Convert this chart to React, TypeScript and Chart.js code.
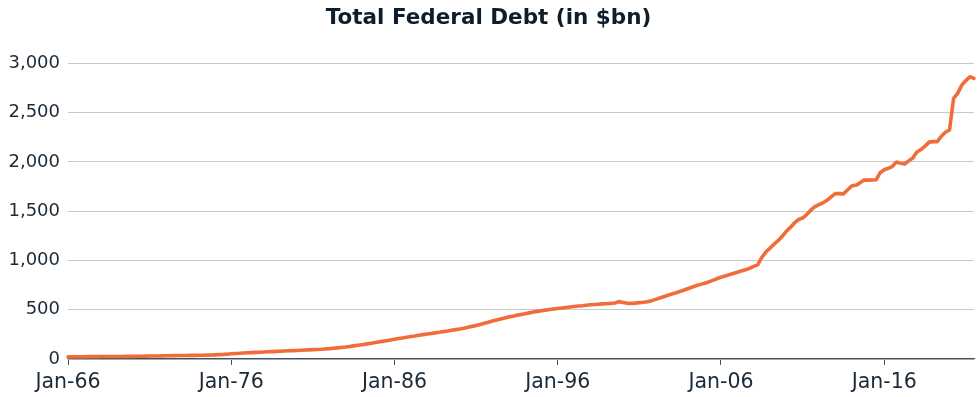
import React, { useEffect, useRef } from "react";
import { Chart, registerables } from "chart.js";

Chart.register(...registerables);

// Quarterly total federal debt ($bn), Jan-66 .. Jul-21
const DEBT_1966_1975 = [
  22, 22, 23, 23, 23, 24, 24, 24, 25, 25, 25, 26, 26, 26, 27, 27, 27, 28, 28, 29,
  30, 30, 31, 32, 33, 33, 34, 35, 36, 36, 37, 37, 38, 38, 39, 40, 42, 44, 46, 49,
];
const DEBT_1976_1985 = [
  53, 56, 58, 61, 63, 65, 67, 69, 71, 73, 75, 77, 79, 81, 83, 85, 87, 89, 91, 93,
  95, 97, 99, 102, 105, 109, 113, 117, 121, 127, 133, 139, 145, 151, 158, 165, 172, 179, 186, 193,
];
const DEBT_1986_1995 = [
  200, 207, 214, 221, 228, 234, 241, 247, 253, 259, 265, 271, 278, 284, 291, 298, 305, 313, 322, 331,
  340, 351, 362, 373, 385, 395, 405, 415, 425, 434, 443, 452, 460, 468, 476, 483, 490, 496, 502, 507,
];
const DEBT_1996_2007 = [
  512, 517, 522, 527, 532, 537, 541, 546, 550, 553, 556, 559, 561, 564, 568, 582, 574, 566, 564, 567,
  572, 575, 580, 592, 605, 618, 632, 646, 660, 672, 686, 700, 715, 730, 745, 757, 768, 782, 798, 814,
  830, 842, 855, 868, 880, 892, 905, 920,
];
const DEBT_2008_2021 = [
  940, 955, 1030, 1085, 1125, 1165, 1200, 1245, 1295, 1335, 1380, 1415, 1430, 1465, 1510, 1545,
  1565, 1585, 1610, 1645, 1678, 1678, 1675, 1715, 1755, 1762, 1785, 1815, 1815, 1816, 1818, 1890,
  1920, 1935, 1955, 1998, 1985, 1978, 2010, 2040, 2100, 2125, 2160, 2200, 2205, 2205, 2260, 2300,
  2323, 2644, 2695, 2779, 2825, 2863, 2847,
];

const DEBT = [
  ...DEBT_1966_1975,
  ...DEBT_1976_1985,
  ...DEBT_1986_1995,
  ...DEBT_1996_2007,
  ...DEBT_2008_2021,
];

const START_YEAR = 1966;
const QUARTER_MONTHS = ["Jan", "Apr", "Jul", "Oct"];
const CATEGORIES = DEBT.map((_, i) => {
  const yr = START_YEAR + Math.floor(i / 4);
  return `${QUARTER_MONTHS[i % 4]}-${String(yr % 100).padStart(2, "0")}`;
});

const X_TICK_LABELS = ["Jan-66", "Jan-76", "Jan-86", "Jan-96", "Jan-06", "Jan-16"];
const Y_MIN = 0;
const Y_MAX = 3000;
const Y_STEP = 500;

const TITLE = "Total Federal Debt (in $bn)";
const FONT = "'DejaVu Sans', sans-serif";

export default function App() {
  const ref = useRef<HTMLCanvasElement | null>(null);

  useEffect(() => {
    document.body.style.margin = "0";
    const canvas = ref.current;
    if (!canvas) return;
    const chart = new Chart(canvas, {
      type: "line",
      data: {
        labels: CATEGORIES,
        datasets: [
          {
            data: DEBT,
            borderColor: "#F06C38",
            borderWidth: 3.6,
            pointRadius: 0,
            tension: 0,
            fill: false,
            borderJoinStyle: "round",
            borderCapStyle: "round",
          },
        ],
      },
      options: {
        animation: false,
        responsive: false,
        layout: { padding: { left: 0, right: 2, top: 0, bottom: 0 } },
        plugins: {
          legend: { display: false },
          tooltip: { enabled: false },
          title: {
            display: true,
            text: TITLE,
            color: "#0f1d2b",
            font: { family: FONT, size: 21.5, weight: "bold" },
            padding: { top: 6, bottom: 31.5 },
          },
        },
        scales: {
          x: {
            type: "category",
            afterFit: (s: any) => {
              s.height = 38;
            },
            border: { display: true, color: "#44505b", width: 1.3 },
            grid: {
              display: true,
              drawOnChartArea: false,
              drawTicks: true,
              tickLength: 6,
              tickColor: (ctx: any) => {
                const lab = CATEGORIES[ctx.index];
                return X_TICK_LABELS.includes(lab) ? "#44505b" : "rgba(0,0,0,0)";
              },
            },
            ticks: {
              autoSkip: false,
              maxRotation: 0,
              minRotation: 0,
              padding: 5,
              color: "#1c2a38",
              font: { family: FONT, size: 20.5 },
              callback: (_v: any, i: number) => {
                const lab = CATEGORIES[i];
                return X_TICK_LABELS.includes(lab) ? lab : "";
              },
            },
          },
          y: {
            min: Y_MIN,
            max: Y_MAX,
            afterFit: (s: any) => {
              s.width = 68;
            },
            border: { display: false },
            grid: {
              color: "#c9c9c9",
              lineWidth: 1,
              drawTicks: false,
            },
            ticks: {
              stepSize: Y_STEP,
              padding: 8,
              color: "#1c2a38",
              font: { family: FONT, size: 18 },
              callback: (v: any) => Number(v).toLocaleString("en-US"),
            },
          },
        },
      },
    });
    return () => chart.destroy();
  }, []);

  return (
    <div style={{ width: 979, height: 397 }}>
      <canvas ref={ref} width={979} height={397} style={{ display: "block" }} />
    </div>
  );
}
